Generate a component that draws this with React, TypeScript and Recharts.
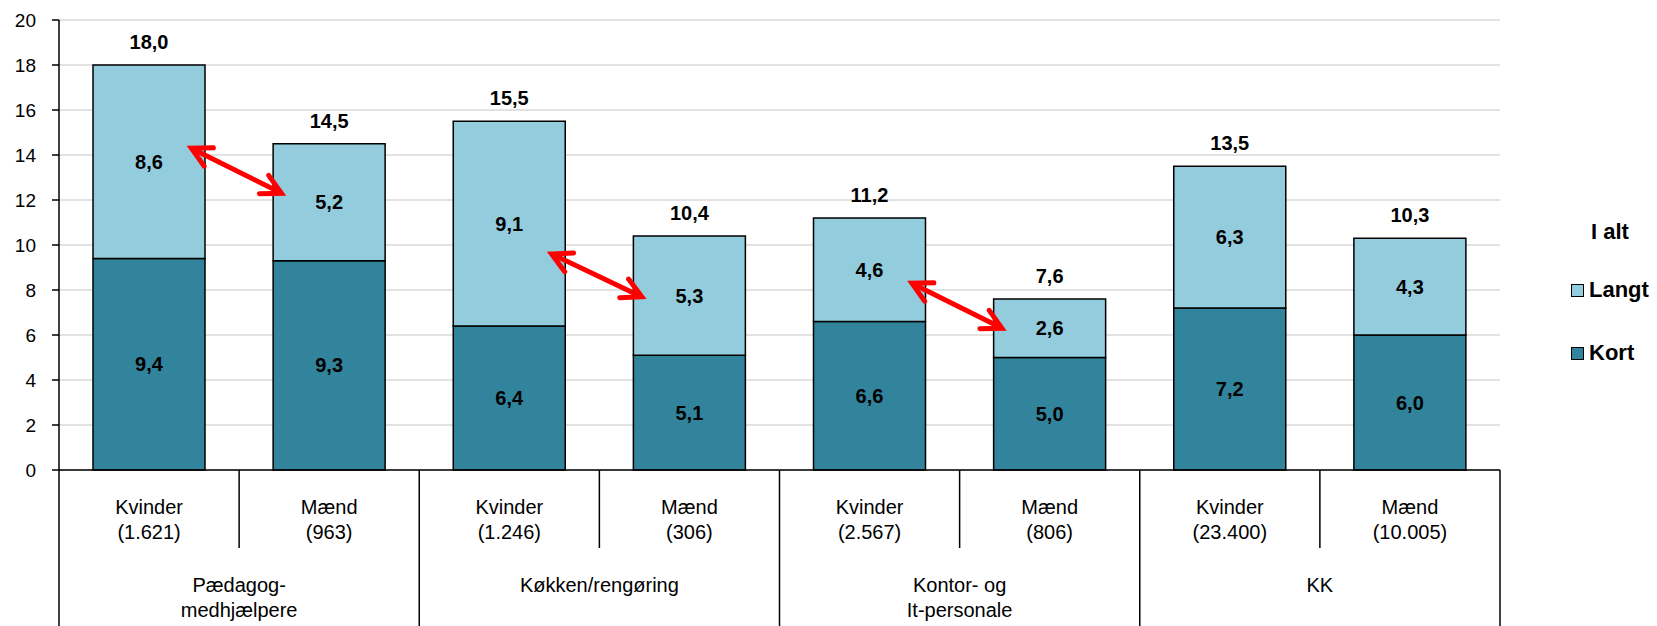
import React from "react";
import { BarChart, Bar, XAxis, YAxis, CartesianGrid, LabelList, Legend } from "recharts";

const sexes = ["Kvinder", "Mænd", "Kvinder", "Mænd", "Kvinder", "Mænd", "Kvinder", "Mænd"];
const counts = ["(1.621)", "(963)", "(1.246)", "(306)", "(2.567)", "(806)", "(23.400)", "(10.005)"];
const groups = [["Pædagog-", "medhjælpere"], ["Køkken/rengøring"], ["Kontor- og", "It-personale"], ["KK"]];
const kort = [9.4, 9.3, 6.4, 5.1, 6.6, 5.0, 7.2, 6.0];
const langt = [8.6, 5.2, 9.1, 5.3, 4.6, 2.6, 6.3, 4.3];
const total = [18.0, 14.5, 15.5, 10.4, 11.2, 7.6, 13.5, 10.3];
const yTicks = [0, 2, 4, 6, 8, 10, 12, 14, 16, 18, 20];

// red double arrows between the "Langt" segments (category index + value at each tip)
const arrows = [
  { from: 0, fromValue: 14.3, to: 1, toValue: 12.3 },
  { from: 2, fromValue: 9.6, to: 3, toValue: 7.7 },
  { from: 4, fromValue: 8.3, to: 5, toValue: 6.3 },
];

const SERIES = [
  { key: "langt", name: "Langt", color: "#93CDDD" },
  { key: "kort", name: "Kort", color: "#31849B" },
];

const data = sexes.map((s, i) => ({
  id: `${i}`,
  sex: s,
  count: counts[i],
  kort: kort[i],
  langt: langt[i],
  total: total[i],
}));

const W = 1657;
const H = 626;
const PLOT_LEFT = 59;
const PLOT_RIGHT = 1500;
const PLOT_TOP = 20;
const PLOT_BOTTOM = 470;
const BAND = (PLOT_RIGHT - PLOT_LEFT) / data.length;
const FONT = "'Liberation Sans', Arial, sans-serif";

const fmt = (v: any) => Number(v).toFixed(1).replace(".", ",");

const xPx = (i: number) => PLOT_LEFT + BAND * (i + 0.5);
const yPx = (v: number) => PLOT_BOTTOM - (v / 20) * (PLOT_BOTTOM - PLOT_TOP);

const CategoryTick = (props: any) => {
  const { x, payload } = props;
  const i = payload.index;
  const half = BAND / 2;
  const g = groups[Math.floor(i / 2)];
  return (
    <g>
      <text x={x} textAnchor="middle" fontSize={20} fill="#000" fontFamily={FONT}>
        <tspan x={x} y={PLOT_BOTTOM + 44}>{sexes[i]}</tspan>
        <tspan x={x} y={PLOT_BOTTOM + 69}>{counts[i]}</tspan>
      </text>
      {i % 2 === 1 && (
        <line x1={x - half} x2={x - half} y1={PLOT_BOTTOM} y2={PLOT_BOTTOM + 78} stroke="#000" strokeWidth={1.5} />
      )}
      {i % 2 === 0 && (
        <>
          <line x1={x - half} x2={x - half} y1={PLOT_BOTTOM} y2={H} stroke="#000" strokeWidth={1.5} />
          <text textAnchor="middle" fontSize={20} fill="#000" fontFamily={FONT}>
            {g.map((line, k) => (
              <tspan key={k} x={x + half} y={PLOT_BOTTOM + 122 + k * 25}>
                {line}
              </tspan>
            ))}
          </text>
        </>
      )}
      {i === data.length - 1 && (
        <line x1={x + half} x2={x + half} y1={PLOT_BOTTOM} y2={H} stroke="#000" strokeWidth={1.5} />
      )}
    </g>
  );
};

const LegendBox = () => (
  <div style={{ position: "relative", width: 100, height: 160, fontFamily: FONT, fontWeight: "bold", fontSize: 22, color: "#000" }}>
    <div style={{ position: "absolute", top: 0, left: 0, width: 100, height: 34, lineHeight: "34px", textAlign: "center" }}>I alt</div>
    {SERIES.map((s, k) => (
      <div key={s.key} style={{ position: "absolute", left: 11, top: 58 + k * 63, height: 34, display: "flex", alignItems: "center" }}>
        <span style={{ display: "inline-block", width: 11, height: 11, background: s.color, border: "1.5px solid #000", marginRight: 5 }} />
        <span>{s.name}</span>
      </div>
    ))}
  </div>
);

const Arrow = ({ x1, y1, x2, y2 }: { x1: number; y1: number; x2: number; y2: number }) => {
  const ang = Math.atan2(y2 - y1, x2 - x1);
  const len = 22;
  const spread = (28 * Math.PI) / 180;
  const head = (tx: number, ty: number, dir: number) => {
    const a1 = dir + spread;
    const a2 = dir - spread;
    return `M${tx + len * Math.cos(a1)},${ty + len * Math.sin(a1)} L${tx},${ty} L${tx + len * Math.cos(a2)},${ty + len * Math.sin(a2)}`;
  };
  return (
    <g stroke="#FF0000" strokeWidth={5} fill="none" strokeLinecap="round" strokeLinejoin="miter">
      <line x1={x1 + 2 * Math.cos(ang)} y1={y1 + 2 * Math.sin(ang)} x2={x2 - 2 * Math.cos(ang)} y2={y2 - 2 * Math.sin(ang)} />
      <path d={head(x1, y1, ang)} />
      <path d={head(x2, y2, ang + Math.PI)} />
    </g>
  );
};

export default function App() {
  return (
    <div style={{ position: "absolute", left: 0, top: 0, width: W, height: H, background: "#fff", fontFamily: FONT }}>
      <BarChart
        width={W}
        height={H}
        data={data}
        margin={{ top: PLOT_TOP, right: W - PLOT_RIGHT, bottom: 0, left: 0 }}
        barCategoryGap={34}
      >
        <CartesianGrid vertical={false} stroke="#d9d9d9" strokeWidth={1.5} />
        <XAxis
          dataKey="id"
          interval={0}
          height={H - PLOT_BOTTOM}
          tickLine={false}
          axisLine={{ stroke: "#000", strokeWidth: 1.5 }}
          tick={<CategoryTick />}
        />
        <YAxis
          width={PLOT_LEFT}
          domain={[0, 20]}
          ticks={yTicks}
          interval={0}
          tickSize={7}
          tickMargin={16}
          axisLine={{ stroke: "#000", strokeWidth: 1.5 }}
          tickLine={{ stroke: "#000", strokeWidth: 1.5 }}
          tick={{ fill: "#000", fontSize: 19, fontFamily: FONT }}
        />
        <Legend
          verticalAlign="middle"
          align="center"
          wrapperStyle={{ left: 1560, top: 215, width: 100 }}
          content={() => <LegendBox />}
        />
        <Bar dataKey="kort" name="Kort" stackId="a" fill="#31849B" stroke="#000" strokeWidth={1.5} isAnimationActive={false}>
          <LabelList dataKey="kort" position="center" formatter={fmt} fill="#000" fontSize={20} fontWeight="bold" fontFamily={FONT} />
        </Bar>
        <Bar dataKey="langt" name="Langt" stackId="a" fill="#93CDDD" stroke="#000" strokeWidth={1.5} isAnimationActive={false}>
          <LabelList dataKey="langt" position="center" formatter={fmt} fill="#000" fontSize={20} fontWeight="bold" fontFamily={FONT} />
          <LabelList dataKey="total" position="top" offset={16} formatter={fmt} fill="#000" fontSize={20} fontWeight="bold" fontFamily={FONT} />
        </Bar>
      </BarChart>
      <svg width={W} height={H} style={{ position: "absolute", left: 0, top: 0, pointerEvents: "none" }}>
        {arrows.map((a, k) => (
          <Arrow
            key={k}
            x1={xPx(a.from) + BAND * 0.235}
            y1={yPx(a.fromValue)}
            x2={xPx(a.to) - BAND * 0.265}
            y2={yPx(a.toValue)}
          />
        ))}
      </svg>
    </div>
  );
}
